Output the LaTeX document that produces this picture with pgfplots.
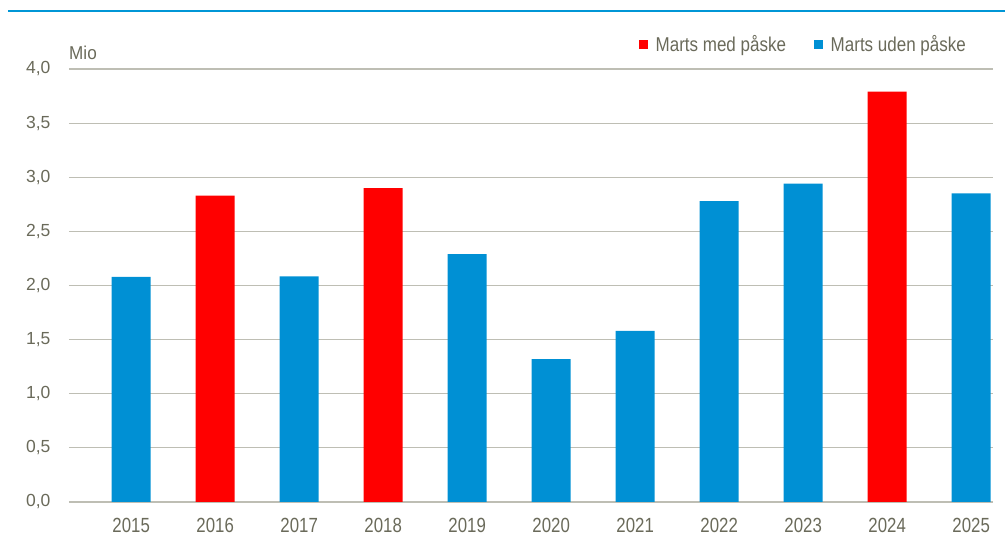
\documentclass[border=0pt]{standalone}
\usepackage{graphicx}
\usepackage{pgfplots}
\pgfplotsset{compat=1.18}
\usepackage{fontspec}
\setmainfont{Liberation Sans}
\definecolor{txt}{RGB}{106,106,90}
\definecolor{gridc}{RGB}{190,190,180}
\definecolor{barblue}{RGB}{0,144,212}
\definecolor{barred}{RGB}{255,0,0}
\definecolor{topline}{RGB}{0,150,214}
\newcommand\xl[1]{\scalebox{0.82}[1]{#1}}
\begin{document}
\begin{tikzpicture}
\useasboundingbox (-69pt,-43pt) rectangle (936pt,502pt);
\draw[topline, line width=2.5pt] (-61pt,491pt) -- (936pt,491pt);
\begin{axis}[
  scale only axis, width=924pt, height=433pt,
  at={(0pt,0pt)}, anchor=south west,
  xmin=-0.74, xmax=10.26, ymin=0, ymax=4,
  xtick={0,1,2,3,4,5,6,7,8,9,10},
  xticklabels={\xl{2015},\xl{2016},\xl{2017},\xl{2018},\xl{2019},\xl{2020},\xl{2021},\xl{2022},\xl{2023},\xl{2024},\xl{2025}},
  ytick={0,0.5,1,1.5,2,2.5,3,3.5,4},
  /pgf/number format/.cd, fixed, fixed zerofill, precision=1, use comma, assume math mode=true,
  /pgfplots/.cd,
  axis line style={draw=none},
  major tick length=0pt,
  ymajorgrids, grid style={gridc, line width=1.2pt},
  tick label style={text=txt},
  yticklabel style={font=\fontsize{17.5}{20}\selectfont, xshift=-15pt},
  xticklabel style={font=\fontsize{20.5}{24}\selectfont, yshift=-13pt},
  legend style={at={(0.973,1.0566)}, anchor=east, draw=none, fill=none,
    inner xsep=0pt, inner ysep=0pt, font=\fontsize{20}{23}\selectfont, text=txt,
    /tikz/every even column/.append style={column sep=26pt}},
  legend columns=2,
  legend image code/.code={\fill[#1, draw=none] (0pt,-4.3pt) rectangle (8.7pt,4.3pt);},
  clip=false,
]
\addplot[ybar, bar width=39pt, bar shift=0pt, fill=barred, draw=none]
  coordinates {(1,2.83) (3,2.90) (9,3.79)};
\addlegendentry{\hspace{6pt}\scalebox{0.85}[1]{Marts med påske}}
\addplot[ybar, bar width=39pt, bar shift=0pt, fill=barblue, draw=none]
  coordinates {(0,2.08) (2,2.085) (4,2.29) (5,1.32) (6,1.58) (7,2.78) (8,2.94) (10,2.85)};
\addlegendentry{\hspace{6pt}\scalebox{0.85}[1]{Marts uden påske}}
\node[anchor=base west, inner sep=0pt, font=\fontsize{18.6}{22}\selectfont, text=txt]
  at ([yshift=9pt]rel axis cs:0,1) {\scalebox{0.92}[1]{Mio}};
\end{axis}
\end{tikzpicture}
\end{document}
